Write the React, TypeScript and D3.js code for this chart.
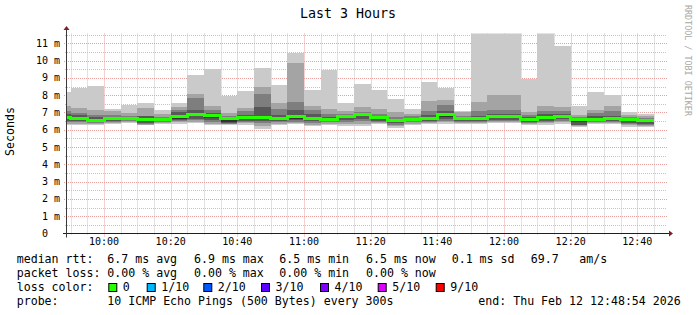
import React from "react";
import * as d3 from "d3";

// ---- data (SmokePing, 10 pings per 5-min step) ----
const binStarts = [
  "09:45","09:50","09:55","10:00","10:05","10:10","10:15","10:20","10:25","10:30","10:35","10:40",
  "10:45","10:50","10:55","11:00","11:05","11:10","11:15","11:20","11:25","11:30","11:35","11:40",
  "11:45","11:50","11:55","12:00","12:05","12:10","12:15","12:20","12:25","12:30","12:35","12:40",
];
const medianMs = [6.72,6.66,6.56,6.64,6.67,6.62,6.6,6.74,6.88,6.82,6.66,6.7,6.7,6.64,6.75,6.68,6.6,6.74,6.87,6.69,6.55,6.6,6.68,6.86,6.65,6.64,6.77,6.77,6.58,6.7,6.76,6.58,6.62,6.66,6.57,6.55];
const ping10 = [8.18,8.41,8.53,7.19,7.43,7.56,7.14,7.56,9.18,9.52,7.96,8.25,9.56,8.6,10.45,8.31,9.47,7.55,8.65,8.3,7.79,7.2,8.78,8.44,7.09,11.7,11.7,11.7,8.93,11.7,10.82,7.38,8.19,8.03,7.0,6.91];
const ping9 = [7.36,7.27,7.16,7.07,6.95,7.26,6.9,7.32,8.07,7.38,6.95,7.25,8.49,7.57,9.87,7.38,7.18,7.1,7.33,7.18,7.0,6.9,7.67,7.74,7.03,7.62,8.02,8.02,7.0,7.35,7.3,6.88,7.17,7.38,6.85,6.78];
const ping8 = [7.07,6.95,6.87,6.84,6.8,6.8,6.75,7.15,7.84,7.14,6.8,7.1,8.08,7.2,7.62,7.12,6.9,6.92,7.05,6.9,6.75,6.78,7.08,7.44,6.8,7.08,7.15,7.15,6.85,7.1,7.07,6.75,6.98,7.1,6.72,6.68];
const ping7 = [6.9,6.84,6.72,6.74,6.74,6.78,6.68,7.0,7.17,6.98,6.74,6.88,7.3,6.85,7.17,6.9,6.72,6.85,6.98,6.8,6.65,6.7,6.88,7.1,6.72,6.82,6.92,6.9,6.72,6.9,6.9,6.68,6.8,6.82,6.65,6.62];
const ping6 = [6.78,6.72,6.62,6.68,6.7,6.68,6.64,6.8,6.95,6.88,6.7,6.76,6.76,6.7,6.84,6.74,6.65,6.79,6.92,6.74,6.6,6.65,6.74,6.94,6.7,6.7,6.83,6.83,6.63,6.76,6.82,6.63,6.68,6.72,6.62,6.6];
const ping5 = [6.62,6.6,6.5,6.58,6.62,6.5,6.55,6.65,6.78,6.68,6.42,6.62,6.62,6.58,6.65,6.6,6.55,6.66,6.8,6.62,6.5,6.55,6.6,6.74,6.6,6.58,6.68,6.68,6.52,6.62,6.7,6.42,6.55,6.6,6.5,6.45];
const ping4 = [6.5,6.5,6.44,6.5,6.55,6.38,6.5,6.58,6.65,6.55,6.38,6.52,6.5,6.5,6.55,6.5,6.48,6.55,6.65,6.52,6.4,6.48,6.5,6.6,6.52,6.5,6.58,6.58,6.45,6.52,6.6,6.3,6.48,6.5,6.4,6.35];
const ping3 = [6.42,6.42,6.4,6.45,6.5,6.32,6.45,6.5,6.55,6.45,6.35,6.45,6.38,6.42,6.45,6.38,6.42,6.45,6.5,6.45,6.3,6.42,6.45,6.5,6.45,6.44,6.5,6.5,6.4,6.45,6.5,6.25,6.42,6.45,6.32,6.28];
const ping2 = [6.35,6.35,6.36,6.4,6.45,6.28,6.4,6.42,6.45,6.36,6.32,6.4,6.2,6.36,6.38,6.28,6.36,6.35,6.35,6.4,6.2,6.36,6.4,6.42,6.38,6.4,6.44,6.44,6.36,6.38,6.42,6.22,6.38,6.4,6.25,6.2];
const ping1 = [6.28,6.26,6.3,6.33,6.4,6.25,6.35,6.35,6.38,6.28,6.28,6.3,6.05,6.3,6.35,6.22,6.3,6.24,6.22,6.35,6.12,6.3,6.35,6.35,6.32,6.35,6.38,6.38,6.3,6.3,6.35,6.18,6.32,6.35,6.18,6.14];

const yTickValues = [0,1,2,3,4,5,6,7,8,9,10,11];
const yTickLabels = ["0","1 m","2 m","3 m","4 m","5 m","6 m","7 m","8 m","9 m","10 m","11 m"];
const xTickLabels = ["10:00","10:20","10:40","11:00","11:20","11:40","12:00","12:20","12:40"];

const lossLabels = ["0","1/10","2/10","3/10","4/10","5/10","9/10"];
const lossColors = ["#26ff00","#00b8ff","#0059ff","#5e00ff","#7e00ff","#dd00ff","#ff0000"];

const rttLine = ["6.7 ms avg","6.9 ms max","6.5 ms min","6.5 ms now","0.1 ms sd","69.7","am/s"];
const lossLine = ["0.00 % avg","0.00 % max","0.00 % min","0.00 % now"];
const probeText = "10 ICMP Echo Pings (500 Bytes) every 300s";
const endText = "end: Thu Feb 12 12:48:54 2026";
const titleText = "Last 3 Hours";

// ---- layout ----
const W = 697, H = 315;
const PX0 = 67, PX1 = 667, PY0 = 33.5, PY1 = 233.5;
const FONT = "'DejaVu Sans Mono', monospace";
const smokeShades = ["#cacaca", "#a4a4a4", "#7e7e7e", "#585858", "#323232"];

const parseT = (s: string) => {
  const [h, m] = s.split(":").map(Number);
  return new Date(Date.UTC(2026, 1, 12, h, m, 0));
};
const endTime = new Date(Date.UTC(2026, 1, 12, 12, 48, 54));
const startTime = new Date(endTime.getTime() - 3 * 3600 * 1000);

export default function App() {
  const x = d3.scaleUtc().domain([startTime, endTime]).range([PX0, PX1]);
  const y = d3.scaleLinear().domain([0, 200 / 17.29]).range([PY1, PY0]);

  const step = 5 * 60 * 1000;
  const highs = [ping10, ping9, ping8, ping7, ping6];
  const lows = [ping1, ping2, ping3, ping4, ping5];

  const gridTimes = x.ticks(d3.utcMinute.every(5) as any);
  const majorSet = new Set(xTickLabels.map((l) => parseT(l).getTime()));
  const minorTimes = gridTimes.filter((t) => !majorSet.has(t.getTime()));
  const majorTimes = xTickLabels.map(parseT);

  const minorY = d3.range(0, 11.6, 0.5).filter((v) => v % 1 !== 0 && v > 0);

  const medPts: [Date, number][] = binStarts.map((s, i) => [parseT(s), medianMs[i]]);
  medPts.push([new Date(parseT(binStarts[binStarts.length - 1]).getTime() + step), medianMs[medianMs.length - 1]]);
  const medLine = d3
    .line<[Date, number]>()
    .x((d) => x(d[0]))
    .y((d) => y(d[1]))
    .curve(d3.curveStepAfter);

  const snap = (v: number) => Math.round(v) + 0.5;
  const minorColor = "#c4c4c4";
  const majorColor = "#eba0a0";

  const legendX = [16.7, 107.3, 194, 279.3, 366, 451.7, 530.7, 579.3];
  const lossBoxX = [108.3, 146.7, 203.3, 261, 320, 377.7, 435.7];

  return (
    <svg
      width={W}
      height={H}
      style={{ position: "absolute", left: 0, top: 0, background: "#fff" }}
      fontFamily={FONT}
    >
      <rect x={0} y={0} width={W} height={H} fill="#fff" />
      <defs>
        <clipPath id="plot">
          <rect x={PX0} y={PY0} width={PX1 - PX0} height={PY1 - PY0} />
        </clipPath>
      </defs>

      {/* grid */}
      <g>
        {minorY.map((v) => (
          <line key={"my" + v} x1={PX0 - 2} x2={PX1} y1={snap(y(v))} y2={snap(y(v))}
            stroke={minorColor} strokeDasharray="1,1" />
        ))}
        {minorTimes.map((t) => (
          <line key={"mx" + t.getTime()} x1={snap(x(t))} x2={snap(x(t))} y1={PY0} y2={PY1 + 2}
            stroke={minorColor} strokeDasharray="1,1" />
        ))}
        {yTickValues.filter((v) => v > 0).map((v) => (
          <line key={"My" + v} x1={PX0 - 3} x2={PX1} y1={snap(y(v))} y2={snap(y(v))}
            stroke={majorColor} strokeDasharray="1,1" />
        ))}
        {majorTimes.map((t) => (
          <line key={"Mx" + t.getTime()} x1={snap(x(t))} x2={snap(x(t))} y1={PY0} y2={PY1 + 3}
            stroke={majorColor} strokeDasharray="1,1" />
        ))}
      </g>

      {/* smoke */}
      <g clipPath="url(#plot)" shapeRendering="crispEdges">
        {smokeShades.map((c, k) => (
          <g key={"s" + k} fill={c}>
            {binStarts.map((s, i) => {
              const t0 = parseT(s);
              const t1 = new Date(t0.getTime() + step);
              const xa = Math.round(x(t0));
              const xb = Math.round(x(t1));
              const ya = y(highs[k][i]);
              const yb = y(lows[k][i]);
              return <rect key={i} x={xa} width={xb - xa} y={ya} height={Math.max(0, yb - ya)} />;
            })}
          </g>
        ))}
        <path d={medLine(medPts) || ""} fill="none" stroke="#26ff00" strokeWidth={3} />
      </g>

      {/* axes */}
      <line x1={PX0 - 4} x2={PX1 + 4} y1={PY1} y2={PY1} stroke="#1f1f1f" strokeWidth={1} />
      <line x1={PX0 - 0.5} x2={PX0 - 0.5} y1={PY1 + 4} y2={PY0 - 4} stroke="#3a3a3a" strokeWidth={1} />
      <path d={`M${PX0 - 3.5},${PY0 - 3.5} L${PX0 + 2.5},${PY0 - 3.5} L${PX0 - 0.5},${PY0 - 7.5} Z`} fill="#7f1f1f" />
      <path d={`M${PX1 + 2},${PY1 - 3} L${PX1 + 2},${PY1 + 3} L${PX1 + 6},${PY1} Z`} fill="#7f1f1f" />

      {/* y labels */}
      <g fontSize={10} fill="#000">
        {yTickValues.map((v, i) => (
          <text key={"yl" + v} x={v === 0 ? 48 : 60} y={y(v) + 3.5} textAnchor="end">
            {yTickLabels[i]}
          </text>
        ))}
        {xTickLabels.map((l) => (
          <text key={"xl" + l} x={x(parseT(l))} y={245} textAnchor="middle">{l}</text>
        ))}
      </g>

      {/* title & side texts */}
      <text x={348} y={18} textAnchor="middle" fontSize={13.3} fill="#000">{titleText}</text>
      <text transform={`translate(14,131.5) rotate(-90)`} textAnchor="middle" fontSize={11.6} fill="#000">Seconds</text>
      <text transform={`translate(685,5) rotate(90)`} fontSize={8.4} fill="#a8a8a8">RRDTOOL / TOBI OETIKER</text>

      {/* legend */}
      <g fontSize={11.6} fill="#000" style={{ whiteSpace: "pre" }}>
        <text x={legendX[0]} y={263}>median rtt:</text>
        {rttLine.map((s, i) => (
          <text key={"r" + i} x={legendX[i + 1]} y={263}>{s}</text>
        ))}
        <text x={legendX[0]} y={277}>packet loss:</text>
        {lossLine.map((s, i) => (
          <text key={"l" + i} x={legendX[i + 1]} y={277}>{s}</text>
        ))}
        <text x={legendX[0]} y={291}>loss color:</text>
        {lossLabels.map((s, i) => (
          <g key={"lc" + i}>
            <rect x={lossBoxX[i] + 0.5} y={283.5} width={8} height={8} fill={lossColors[i]} stroke="#000" strokeWidth={1} />
            <text x={lossBoxX[i] + 14.5} y={291}>{s}</text>
          </g>
        ))}
        <text x={legendX[0]} y={304.5}>probe:</text>
        <text x={legendX[1]} y={304.5}>{probeText}</text>
        <text x={478.3} y={304.5}>{endText}</text>
      </g>
    </svg>
  );
}
